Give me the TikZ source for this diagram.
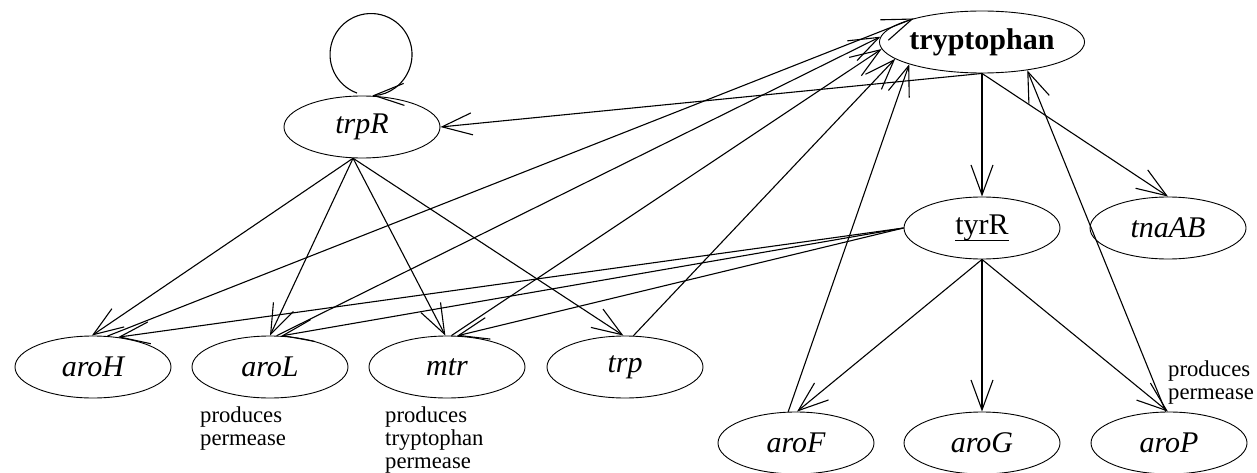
\documentclass[tikz,border=0pt]{standalone}
\usepackage{fontspec}
\setmainfont{Liberation Serif}
\usetikzlibrary{arrows.meta,shapes.geometric}
% underline drawn a fixed distance below the baseline
\newcommand\geneul[1]{\setbox0\hbox{#1}\rlap{\rule[-6.5pt]{\wd0}{1.2pt}}\box0}
\begin{document}
\begin{tikzpicture}[x=1pt,y=1pt,
  gene/.style={ellipse, draw, line width=0.9pt, minimum width=156pt,
    minimum height=62pt, inner sep=0pt, font=\fontsize{30}{36}\selectfont\itshape},
  edge/.style={line width=1.1pt, -{Straight Barb[length=30pt,width=22pt]}},
  note/.style={font=\fontsize{22.7}{22.8}\selectfont, align=left,
    inner sep=0pt, anchor=north west}]
\useasboundingbox (0,0) rectangle (1257,472);

% nodes
\node[gene, minimum width=172pt, font=\fontsize{30}{36}\selectfont\bfseries] (tryptophan) at (982,430) {tryptophan};
\node[gene] (trpR)  at (362,345) {trpR};
\node[gene, font=\fontsize{30}{36}\selectfont] (tyrR) at (982,244) {\geneul{tyrR}};
\node[gene] (tnaAB) at (1168,244) {tnaAB};
\node[gene] (aroH)  at (93,105)  {aroH};
\node[gene] (aroL)  at (270,105) {aroL};
\node[gene] (mtr)   at (447,105) {mtr};
\node[gene] (trp)   at (625,105) {trp};
\node[gene] (aroF)  at (796,29)  {aroF};
\node[gene] (aroG)  at (982,29)  {aroG};
\node[gene] (aroP)  at (1169,29) {aroP};

% notes
\node[note] (aroLnote) at (200,65.5)  {produces\\permease};
\node[note] (mtrnote)  at (385,65.5)  {produces\\tryptophan\\permease};
\node[note] (aroPnote) at (1168,111.5) {produces\\permease};

% tryptophan regulates
\draw[edge] (tryptophan.south) -- (trpR.east);
\draw[edge] (tryptophan.south) -- (tyrR.north);
\draw[edge] (tryptophan.south) -- (tnaAB.north);

% trpR self-regulation
\draw[edge] ([xshift=-5pt,yshift=2.5pt]trpR.north) arc[start angle=250, end angle=-88, radius=41pt];

% trpR targets
\draw[edge] (trpR.254) -- (aroH.92);
\draw[edge] (trpR.254) -- (aroL.90);
\draw[edge] (trpR.254) -- (mtr.93);
\draw[edge] (trpR.254) -- (trp.93);

% tyrR targets
\draw[edge] (tyrR.west) -- (aroH.50);
\draw[edge] (tyrR.west) -- (aroL.70);
\draw[edge] (tyrR.west) -- (mtr.72);
\draw[edge] (tyrR.south) -- (aroF.88);
\draw[edge] (tyrR.south) -- (aroG.north);
\draw[edge] (tyrR.south) -- (aroP.92);

% feedback to tryptophan
\draw[edge] (aroH.65)  -- (tryptophan.161);
\draw[edge] (aroL.78)  -- (tryptophan.177);
\draw[edge] (mtr.82)   -- (tryptophan.184);
\draw[edge] (trp.75)   -- (tryptophan.191);
\draw[edge] (aroF.104) -- (tryptophan.197);
\draw[edge] (aroP.96)  -- (tryptophan.328);
\end{tikzpicture}
\end{document}
